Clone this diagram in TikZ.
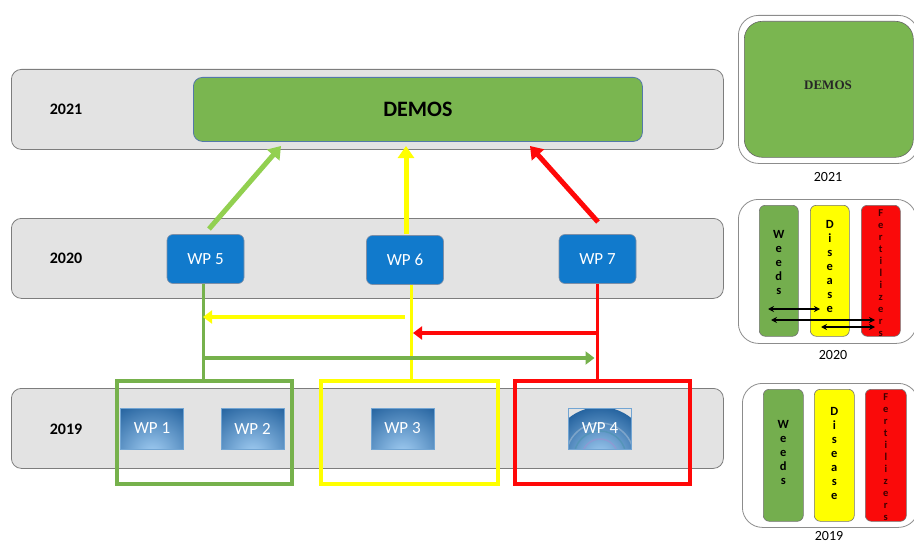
\documentclass[tikz,border=0pt]{standalone}
\usepackage{fontspec}
\setmainfont{Carlito}
\newfontfamily\timesfont{Liberation Serif}
\usetikzlibrary{arrows.meta,calc}

\definecolor{bandfill}{RGB}{227,227,227}
\definecolor{bandline}{RGB}{125,125,125}
\definecolor{demosgreen}{RGB}{122,182,80}
\definecolor{demosline}{RGB}{84,120,170}
\definecolor{wpblue}{RGB}{17,122,204}
\definecolor{wpline}{RGB}{70,95,130}
\definecolor{wpdark}{RGB}{38,100,160}
\definecolor{wplight}{RGB}{165,208,245}
\definecolor{framegreen}{RGB}{118,177,76}
\definecolor{arrowgreen}{RGB}{146,208,80}
\definecolor{ylw}{RGB}{255,255,0}
\definecolor{rd}{RGB}{255,8,8}
\definecolor{weedgreen}{RGB}{116,174,78}
\definecolor{fertred}{RGB}{250,10,10}
\definecolor{panelline}{RGB}{140,140,140}
\definecolor{lettered}{RGB}{60,0,0}

\begin{document}
\begin{tikzpicture}[x=1pt,y=-1pt,
  band/.style={draw=bandline, fill=bandfill, rounded corners=10pt, line width=0.8pt,
    minimum width=712pt, minimum height=80pt, anchor=north west, inner sep=0pt},
  yearlabel/.style={font=\bfseries\fontsize{16}{18}\selectfont},
  wptop/.style={draw=wpline!70, fill=wpblue, rounded corners=6pt, line width=0.6pt,
    minimum width=77pt, minimum height=49pt, inner sep=0pt, text=white,
    font=\fontsize{17}{19}\selectfont},
  wpbottom/.style={rectangle, draw=wplight!60!wpdark, line width=0.5pt,
    minimum width=63pt, minimum height=41pt, inner sep=0pt, text=white,
    font=\fontsize{17}{19}\selectfont,
    path picture={\shade[inner color=wplight, outer color=wpdark]
      ([yshift=-6pt]path picture bounding box.south) circle (56pt);}},
  groupframe/.style={draw, line width=4pt, anchor=north west, inner sep=0pt},
  feed/.style={line width=3pt},
  crossarrow/.style={line width=4pt, -{Triangle[length=9pt,width=13pt]}},
  uparrow/.style={line width=5pt, -{Triangle[length=12pt,width=16pt]}},
  panel/.style={draw=panelline, fill=white, rounded corners=20pt, line width=0.8pt,
    anchor=north west, inner sep=0pt},
  topic/.style={draw=black!55, rounded corners=6pt, line width=0.6pt,
    anchor=north west, inner sep=0pt},
  letters/.style={align=center, font=\bfseries\fontsize{12.5}{14}\selectfont},
  fletters/.style={align=center, text=lettered, font=\bfseries\fontsize{10.5}{12}\selectfont},
  link/.style={line width=1.3pt, {Stealth[length=6pt,width=6pt]}-{Stealth[length=6pt,width=6pt]}}
]
\useasboundingbox (0,0) rectangle (914,543);
\clip (0,0) rectangle (914,543);

% ---------- year bands ----------
\node[band] (b2021) at (11,69) {};
\node[band] (b2020) at (11,218) {};
\node[band] (b2019) at (11,388) {};
\node[yearlabel] (y2021) at (66,109) {2021};
\node[yearlabel] (y2020) at (66,258) {2020};
\node[yearlabel] (y2019) at (66,429) {2019};

% ---------- 2021: demonstrations ----------
\node[draw=demosline, fill=demosgreen, rounded corners=9pt, line width=0.8pt,
  minimum width=449pt, minimum height=64pt, anchor=north west, inner sep=0pt,
  font=\bfseries\fontsize{22}{24}\selectfont] (demos) at (193,77) {DEMOS};

% ---------- 2020: work packages ----------
\node[wptop] (wp5) at (205.5,259) {WP 5};
\node[wptop] (wp6) at (405,260) {WP 6};
\node[wptop] (wp7) at (597.5,259) {WP 7};

% ---------- 2019: group frames and work packages ----------
\node[groupframe, draw=framegreen, minimum width=175pt, minimum height=103pt] (gframe) at (115,379) {};
\node[groupframe, draw=ylw, minimum width=177pt, minimum height=103pt] (yframe) at (319,379) {};
\node[groupframe, draw=rd, minimum width=175pt, minimum height=103pt] (rframe) at (513,379) {};

\node[wpbottom] (wp1) at (152,428.5) {WP 1};
\node[wpbottom] (wp2) at (252.5,428.5) {WP 2};
\node[wpbottom] (wp3) at (402.5,428.5) {WP 3};
\node[wpbottom, path picture={
    \shade[inner color=wplight, outer color=wpdark]
      ([yshift=-8pt]path picture bounding box.south) circle (50pt);
    \foreach \r/\c in {34/white!55!wpdark, 26/wplight!80!green!40!wpdark, 18/wplight!70!violet}
      \draw[\c, line width=1.5pt, opacity=0.6]
        ([yshift=-8pt]path picture bounding box.south) circle (\r pt);}] (wp4) at (600,428.5) {WP 4};

% ---------- feeds from 2019 groups up to 2020 packages ----------
\coordinate (gx) at ($(wp5.south)+(-2.5,0)$);
\coordinate (yx) at ($(wp6.south)+(6,0)$);
\coordinate (rx) at (wp7.south);
\draw[feed, draw=framegreen] (gx) -- (gx |- gframe.north);
\draw[feed, draw=ylw] (yx) -- (yx |- yframe.north);
\draw[feed, draw=rd] (rx) -- (rx |- rframe.north);

% ---------- exchanges between 2020 packages ----------
\coordinate (ystart) at (405,317);
\draw[crossarrow, draw=ylw, fill=ylw] (ystart) -- (ystart -| gx);
\coordinate (rstart) at (rx |- 0,333);
\draw[crossarrow, draw=rd, fill=rd] (rstart) -- ($(rstart -| yx)+(2,0)$);
\coordinate (gstart) at (gx |- 0,358);
\draw[crossarrow, draw=framegreen, fill=framegreen] (gstart) -- ($(gstart -| rx)+(-3,0)$);

% ---------- 2020 packages feeding the 2021 demonstrations ----------
\coordinate (g0) at (209,229);
\coordinate (g1) at (281,146);
\coordinate (y0) at (406,234);
\coordinate (y1) at (406,146);
\coordinate (r0) at (598,222);
\coordinate (r1) at (530,146);
\draw[uparrow, draw=arrowgreen, fill=arrowgreen] (g0) -- (g1);
\draw[uparrow, draw=ylw, fill=ylw] (y0) -- (y1);
\draw[uparrow, draw=rd, fill=rd] (r0) -- (r1);

% ---------- side panel 2021 ----------
\node[panel, minimum width=180pt, minimum height=148pt] (p2021) at (738,15) {};
\node[draw=black!60, fill=demosgreen, rounded corners=18pt, line width=0.6pt,
  minimum width=169pt, minimum height=136pt, anchor=north west, inner sep=0pt] (pdemos) at (744,21) {};
\node[font=\timesfont\bfseries\fontsize{13}{15}\selectfont, text=black!85] (pdemostxt) at (828,85) {DEMOS};
\node[font=\fontsize{14}{16}\selectfont] (l2021) at (828,177) {2021};

% ---------- side panel 2020 ----------
\node[panel, minimum width=178pt, minimum height=144pt] (p2020) at (738,199) {};
\node[topic, fill=weedgreen, minimum width=39pt, minimum height=131pt] (w20) at (759,205) {};
\node[topic, fill=ylw, minimum width=39pt, minimum height=131pt] (d20) at (810,205) {};
\node[topic, fill=fertred, minimum width=39pt, minimum height=131pt] (f20) at (861,205) {};
\node[letters] (w20t) at (w20.center |- 0,262) {W\\e\\e\\d\\s};
\node[letters] (d20t) at (d20.center |- 0,266) {D\\i\\s\\e\\a\\s\\e};
\node[fletters] (f20t) at (f20.center |- 0,273) {F\\e\\r\\t\\i\\l\\i\\z\\e\\r\\s};
\coordinate (a1l) at (768,309);
\coordinate (a1r) at (820,309);
\coordinate (a2l) at (771,320);
\coordinate (a2r) at (875,320);
\coordinate (a3l) at (821,327);
\coordinate (a3r) at (875,327);
\draw[link] (a1l) -- (a1r);
\draw[link] (a2l) -- (a2r);
\draw[link] (a3l) -- (a3r);
\node[font=\fontsize{14}{16}\selectfont] (l2020) at (833,355) {2020};

% ---------- side panel 2019 ----------
\node[panel, minimum width=176pt, minimum height=144pt] (p2019) at (742,383) {};
\node[topic, fill=weedgreen, minimum width=40pt, minimum height=132pt] (w19) at (763,389) {};
\node[topic, fill=ylw, minimum width=40pt, minimum height=132pt] (d19) at (814,389) {};
\node[topic, fill=fertred, minimum width=41pt, minimum height=132pt] (f19) at (865,389) {};
\node[letters] (w19t) at (w19.center |- 0,452) {W\\e\\e\\d\\s};
\node[letters] (d19t) at (d19.center |- 0,453) {D\\i\\s\\e\\a\\s\\e};
\node[fletters] (f19t) at (f19.center |- 0,457) {F\\e\\r\\t\\i\\l\\i\\z\\e\\r\\s};
\node[font=\fontsize{14}{16}\selectfont] (l2019) at (829,536) {2019};
\end{tikzpicture}
\end{document}
